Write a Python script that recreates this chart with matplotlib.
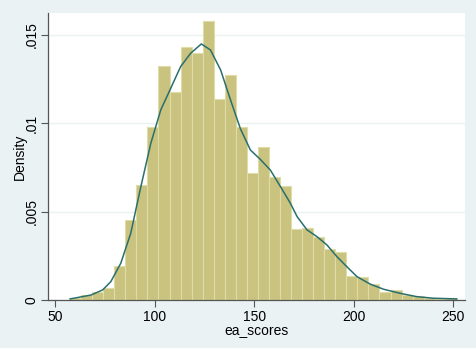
import numpy as np
import matplotlib
matplotlib.use("Agg")
import matplotlib.pyplot as plt

# histogram: 35 bins from min to max of ea_scores
score_min = 57.4
score_max = 251.9
n_bins = 35
bar_density = [0.00012, 0.00026, 0.00044, 0.00068, 0.00192,
               0.00452, 0.00650, 0.00980, 0.01325, 0.01176,
               0.01431, 0.01399, 0.01578, 0.01135, 0.01273,
               0.00980, 0.00718, 0.00867, 0.00697, 0.00645,
               0.00402, 0.00407, 0.00358, 0.00288, 0.00271,
               0.00136, 0.00132, 0.00089, 0.00045, 0.00057,
               0.00030, 0.00023, 0.00011, 0.00006, 0.00011]

# kernel density curve
kd_x = [57.4, 67.9, 73.8, 77.9, 82.9, 87.9, 93.0, 98.0, 103.0, 108.0,
        113.0, 118.0, 123.4, 128.0, 133.1, 138.1, 143.1, 148.1, 153.1,
        158.1, 163.2, 168.2, 171.6, 176.6, 181.6, 186.6, 191.6, 196.6,
        201.7, 208.3, 215.0, 223.3, 231.7, 240.1, 251.8]
kd_y = [0.00006, 0.00028, 0.00057, 0.00104, 0.00208, 0.00377, 0.00641,
        0.00886, 0.01075, 0.01197, 0.01320, 0.01395, 0.01448, 0.01414,
        0.01301, 0.01131, 0.00967, 0.00848, 0.00795, 0.00735, 0.00641,
        0.00547, 0.00471, 0.00396, 0.00358, 0.00311, 0.00245, 0.00188,
        0.00132, 0.00090, 0.00061, 0.00038, 0.00019, 0.00010, 0.00006]

xticks = [50, 100, 150, 200, 250]
yticks = [0, 0.005, 0.01, 0.015]
ytick_labels = ["0", ".005", ".01", ".015"]

bg = "#eaf2f3"
plt.rcParams['font.family'] = ['Liberation Sans', 'DejaVu Sans']

fig = plt.figure(figsize=(4.76, 3.48), dpi=100, facecolor=bg)
ax = fig.add_axes([48 / 476, 1 - 300 / 348, (465 - 48) / 476, (300 - 13) / 348])
ax.set_facecolor("white")

width = (score_max - score_min) / n_bins
lefts = score_min + width * np.arange(n_bins)
ax.bar(lefts, bar_density, width=width, align="edge", color="#c9c37f",
       edgecolor="#e0dca8", linewidth=0.8, zorder=2)
ax.plot(kd_x, kd_y, color="#2a6f6c", linewidth=1.1, zorder=3)

ax.set_xlim(46.3, 256.0)
ax.set_ylim(0, 0.01623)
ax.set_xticks(xticks)
ax.set_yticks(yticks)
ax.set_yticklabels(ytick_labels, rotation=90, va="center")
ax.tick_params(axis="both", labelsize=10, color="#555555", length=5,
               width=0.8, pad=2)
ax.grid(axis="y", color=bg, linewidth=1.0, zorder=1)
ax.set_axisbelow(True)
for side in ["top", "right"]:
    ax.spines[side].set_visible(False)
for side in ["left", "bottom"]:
    ax.spines[side].set_color("#555555")
    ax.spines[side].set_linewidth(0.9)

ax.set_xlabel("ea_scores", fontsize=10, labelpad=0)
ax.set_ylabel("Density", fontsize=10, labelpad=-2)

fig.savefig("out.png", dpi=100, facecolor=bg)
